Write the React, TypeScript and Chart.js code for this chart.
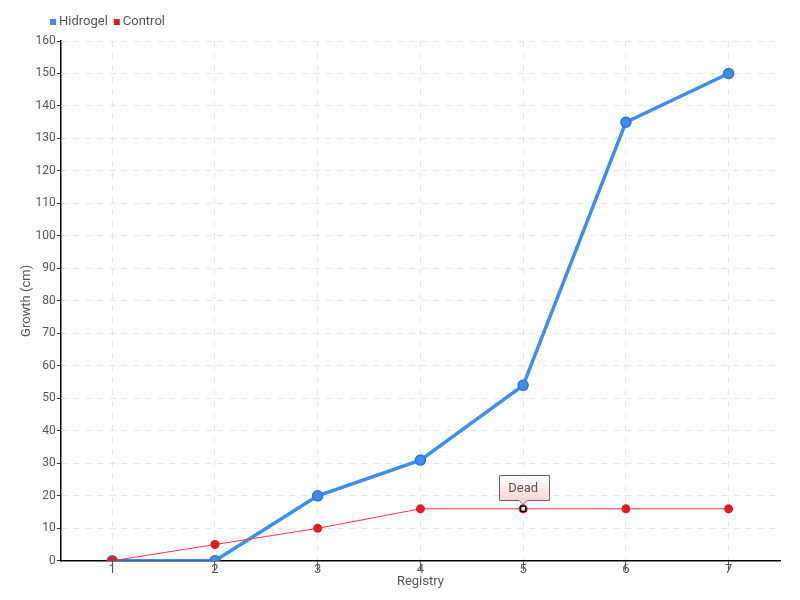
import React, { useEffect, useRef } from "react";
import { Chart, registerables } from "chart.js";

Chart.register(...registerables);

const categories = ["1", "2", "3", "4", "5", "6", "7"];
const hidrogelValues = [0, 0, 20, 31, 54, 135, 150];
const controlValues = [0, 5, 10, 16, 16, 16, 16];
const annotationIndex = 4;
const annotationText = "Dead";

const FONT = "Roboto, 'Open Sans', sans-serif";
const TEXT = "#555555";

const deadLabelPlugin = {
  id: "deadLabel",
  afterDatasetsDraw(chart: any) {
    const ctx = chart.ctx;
    const xs = chart.scales.x;
    const ys = chart.scales.y;
    const px = xs.getPixelForValue(annotationIndex);
    const py = ys.getPixelForValue(controlValues[annotationIndex]);
    ctx.save();
    ctx.fillStyle = "#ffffff";
    ctx.strokeStyle = "#000000";
    ctx.lineWidth = 1.5;
    ctx.fillRect(px - 2.5, py - 2.5, 5, 5);
    ctx.strokeRect(px - 2.5, py - 2.5, 5, 5);
    const w = 50;
    const h = 25;
    const bx = Math.round(px - 24) + 0.5;
    const by = Math.round(py - 34) + 0.5;
    const grad = ctx.createLinearGradient(0, by, 0, by + h);
    grad.addColorStop(0, "#ffffff");
    grad.addColorStop(1, "#ffd6d6");
    ctx.beginPath();
    ctx.moveTo(bx, by);
    ctx.lineTo(bx + w, by);
    ctx.lineTo(bx + w, by + h);
    ctx.lineTo(px + 4, by + h);
    ctx.lineTo(px, by + h + 4);
    ctx.lineTo(px - 4, by + h);
    ctx.lineTo(bx, by + h);
    ctx.closePath();
    ctx.fillStyle = grad;
    ctx.fill();
    ctx.strokeStyle = "#666666";
    ctx.lineWidth = 1;
    ctx.stroke();
    ctx.fillStyle = TEXT;
    ctx.font = "13px " + FONT;
    ctx.textAlign = "center";
    ctx.textBaseline = "middle";
    ctx.fillText(annotationText, px, by + h / 2 + 0.5);
    ctx.restore();
  },
};

const customLegendPlugin = {
  id: "customLegend",
  afterDraw(chart: any) {
    const ctx = chart.ctx;
    ctx.save();
    ctx.font = "13px " + FONT;
    ctx.textBaseline = "middle";
    ctx.textAlign = "left";
    let x = 50;
    const y = 22;
    chart.data.datasets.forEach((ds: any) => {
      ctx.fillStyle = ds.backgroundColor;
      ctx.fillRect(x, y - 3, 6, 6);
      x += 9;
      ctx.fillStyle = TEXT;
      ctx.fillText(ds.label, x, y);
      x += ctx.measureText(ds.label).width + 6;
    });
    ctx.restore();
  },
};

export default function App() {
  const ref = useRef<HTMLCanvasElement | null>(null);
  useEffect(() => {
    document.body.style.margin = "0";
    const canvas = ref.current!;
    const chart = new Chart(canvas, {
      type: "line",
      data: {
        labels: categories,
        datasets: [
          {
            label: "Hidrogel",
            data: hidrogelValues,
            borderColor: "#3d8ef0",
            backgroundColor: "#3d8ef0",
            borderWidth: 3.5,
            pointRadius: 5,
            pointBorderWidth: 1.5,
            pointBorderColor: "#2d74d2",
            pointBackgroundColor: "#3d8ef0",
            tension: 0,
            order: 2,
          },
          {
            label: "Control",
            data: controlValues,
            borderColor: "#ff3448",
            backgroundColor: "#e31b23",
            borderWidth: 1,
            pointRadius: 4.5,
            pointBorderWidth: 0,
            pointBackgroundColor: "#e31b23",
            tension: 0,
            order: 1,
          },
        ],
      },
      options: {
        responsive: false,
        animation: false,
        layout: { padding: { left: 19, right: 20, top: 41, bottom: 10 } },
        plugins: {
          legend: { display: false },
          tooltip: { enabled: false },
        },
        scales: {
          x: {
            offset: true,
            border: { display: true, color: "#000000", width: 1.5, dash: [6, 6] },
            grid: {
              color: "#e6e6e6",
              lineWidth: 1,
              tickColor: "#555555",
              tickLength: 10,
              offset: false,
            },
            ticks: { color: TEXT, font: { family: FONT, size: 13 }, padding: -9 },
            title: {
              display: true,
              text: "Registry",
              color: TEXT,
              font: { family: FONT, size: 13 },
              padding: { top: 6, bottom: 0 },
            },
          },
          y: {
            min: 0,
            max: 160,
            border: { display: true, color: "#000000", width: 1.5, dash: [6, 6] },
            grid: {
              color: "#e6e6e6",
              lineWidth: 1,
              tickColor: "#333333",
              tickLength: 4,
            },
            ticks: { stepSize: 10, color: TEXT, font: { family: FONT, size: 12 }, padding: 1 },
            title: {
              display: true,
              text: "Growth (cm)",
              color: TEXT,
              font: { family: FONT, size: 13 },
              padding: { top: 0, bottom: 0 },
            },
          },
        },
      },
      plugins: [deadLabelPlugin, customLegendPlugin],
    } as any);
    return () => chart.destroy();
  }, []);
  return <canvas ref={ref} width={800} height={600} style={{ display: "block" }} />;
}
